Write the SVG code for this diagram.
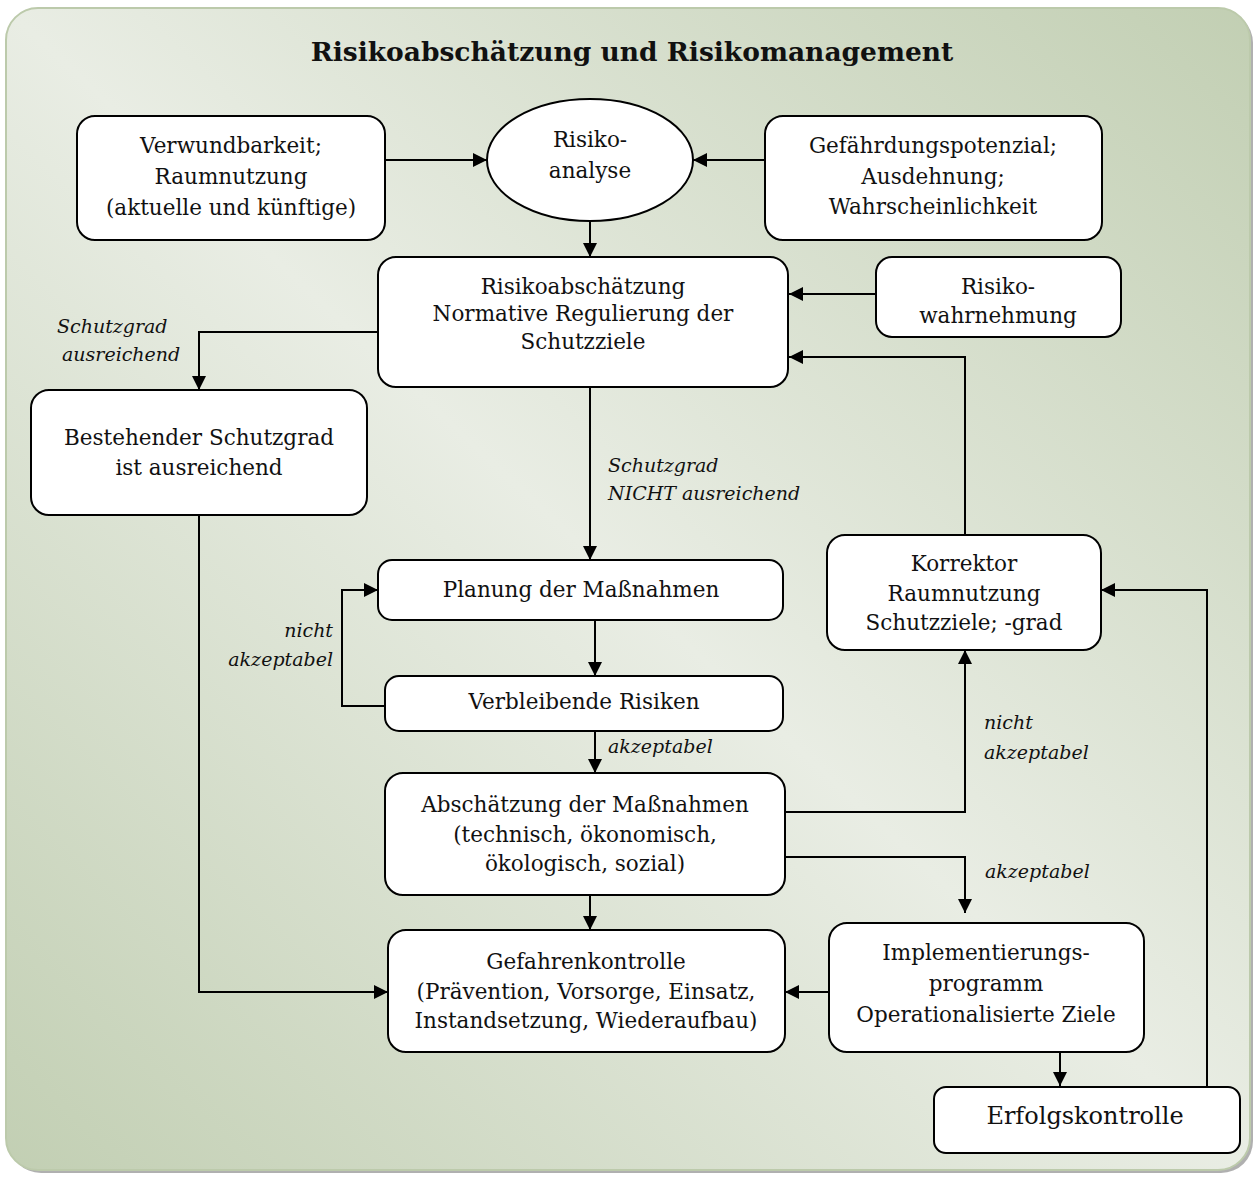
<svg xmlns="http://www.w3.org/2000/svg" width="1256" height="1178" viewBox="0 0 1256 1178">
  <defs>
    <linearGradient id="bg" x1="1" y1="0" x2="0" y2="1">
      <stop offset="0" stop-color="#c2cfb3"/>
      <stop offset="0.5" stop-color="#e9ede4"/>
      <stop offset="1" stop-color="#c2cfb3"/>
    </linearGradient>
    <marker id="arrow" markerUnits="userSpaceOnUse" markerWidth="16" markerHeight="16" refX="14" refY="7" orient="auto">
      <path d="M0,0 L14,7 L0,14 z" fill="#000"/>
    </marker>
  </defs>
  <style>
    .box { fill: #ffffff; stroke: #000; stroke-width: 2; }
    .txt { font-family: "Palatino Linotype", "Book Antiqua", Palatino, "DejaVu Serif", serif; font-size: 21.5px; fill: #111; text-anchor: middle; }
    .lbl { font-family: "Palatino Linotype", "Book Antiqua", Palatino, "DejaVu Serif", serif; font-size: 19px; font-style: italic; fill: #111; }
    .title { font-family: "Palatino Linotype", "Book Antiqua", Palatino, "DejaVu Serif", serif; font-size: 26.5px; font-weight: bold; fill: #111; text-anchor: middle; }
    .conn path { fill: none; stroke: #000; stroke-width: 2; }
    .conn .arr { marker-end: url(#arrow); }
  </style>

  <!-- panel background -->
  <rect x="9" y="11" width="1244" height="1162" rx="32" fill="#8e8e8e" opacity="0.7"/>
  <rect x="6" y="8" width="1244" height="1162" rx="32" fill="url(#bg)" stroke="#bccaab" stroke-width="2"/>

  <text class="title" x="632" y="61">Risikoabschätzung und Risikomanagement</text>

  <!-- connectors -->
  <g id="connectors" class="conn">
    <path class="arr" d="M385,160 H487"/>
    <path class="arr" d="M765,160 H693"/>
    <path class="arr" d="M590,221 V257"/>
    <path class="arr" d="M876,294 H789"/>
    <path class="arr" d="M378,332 H199 V390"/>
    <path class="arr" d="M590,387 V560"/>
    <path class="arr" d="M595,620 V676"/>
    <path class="arr" d="M388,706 H342 V590 H378"/>
    <path class="arr" d="M595,731 V773"/>
    <path class="arr" d="M590,895 V930"/>
    <path class="arr" d="M785,812 H965 V650"/>
    <path class="arr" d="M785,857 H965 V913"/>
    <path class="arr" d="M965,535 V357 H789"/>
    <path class="arr" d="M199,515 V992 H388"/>
    <path class="arr" d="M829,992 H785"/>
    <path class="arr" d="M1060,1052 V1086"/>
    <path class="arr" d="M1207,1087 V590 H1101"/>
  </g>

  <!-- edge labels -->
  <g id="labels">
    <text class="lbl" x="57" y="333">Schutzgrad</text>
    <text class="lbl" x="62" y="361">ausreichend</text>
    <text class="lbl" x="608" y="472">Schutzgrad</text>
    <text class="lbl" x="608" y="500">NICHT ausreichend</text>
    <text class="lbl" x="333" y="637" text-anchor="end">nicht</text>
    <text class="lbl" x="333" y="666" text-anchor="end">akzeptabel</text>
    <text class="lbl" x="608" y="753">akzeptabel</text>
    <text class="lbl" x="984" y="729">nicht</text>
    <text class="lbl" x="984" y="759">akzeptabel</text>
    <text class="lbl" x="985" y="878">akzeptabel</text>
  </g>

  <g id="verwundbarkeit">
    <rect class="box" x="77" y="116" width="308" height="124" rx="18"/>
    <text class="txt" x="231" y="153">Verwundbarkeit;</text>
    <text class="txt" x="231" y="184">Raumnutzung</text>
    <text class="txt" x="231" y="215">(aktuelle und künftige)</text>
  </g>

  <g id="risikoanalyse">
    <ellipse class="box" cx="590" cy="160" rx="103" ry="61"/>
    <text class="txt" x="590" y="147">Risiko-</text>
    <text class="txt" x="590" y="178">analyse</text>
  </g>

  <g id="gefaehrdung">
    <rect class="box" x="765" y="116" width="337" height="124" rx="18"/>
    <text class="txt" x="933" y="153">Gefährdungspotenzial;</text>
    <text class="txt" x="933" y="184">Ausdehnung;</text>
    <text class="txt" x="933" y="214">Wahrscheinlichkeit</text>
  </g>

  <g id="risikoabschaetzung">
    <rect class="box" x="378" y="257" width="410" height="130" rx="18"/>
    <text class="txt" x="583" y="294">Risikoabschätzung</text>
    <text class="txt" x="583" y="321">Normative Regulierung der</text>
    <text class="txt" x="583" y="349">Schutzziele</text>
  </g>

  <g id="risikowahrnehmung">
    <rect class="box" x="876" y="257" width="245" height="80" rx="16"/>
    <text class="txt" x="998" y="294">Risiko-</text>
    <text class="txt" x="998" y="323">wahrnehmung</text>
  </g>

  <g id="bestehender">
    <rect class="box" x="31" y="390" width="336" height="125" rx="18"/>
    <text class="txt" x="199" y="445">Bestehender Schutzgrad</text>
    <text class="txt" x="199" y="475">ist ausreichend</text>
  </g>

  <g id="planung">
    <rect class="box" x="378" y="560" width="405" height="60" rx="14"/>
    <text class="txt" x="581" y="597">Planung der Maßnahmen</text>
  </g>

  <g id="verbleibende">
    <rect class="box" x="385" y="676" width="398" height="55" rx="14"/>
    <text class="txt" x="584" y="709">Verbleibende Risiken</text>
  </g>

  <g id="abschaetzung-massnahmen">
    <rect class="box" x="385" y="773" width="400" height="122" rx="18"/>
    <text class="txt" x="585" y="812">Abschätzung der Maßnahmen</text>
    <text class="txt" x="585" y="842">(technisch, ökonomisch,</text>
    <text class="txt" x="585" y="871">ökologisch, sozial)</text>
  </g>

  <g id="korrektor">
    <rect class="box" x="827" y="535" width="274" height="115" rx="18"/>
    <text class="txt" x="964" y="571">Korrektor</text>
    <text class="txt" x="964" y="601">Raumnutzung</text>
    <text class="txt" x="964" y="630">Schutzziele; -grad</text>
  </g>

  <g id="gefahrenkontrolle">
    <rect class="box" x="388" y="930" width="397" height="122" rx="18"/>
    <text class="txt" x="586" y="969">Gefahrenkontrolle</text>
    <text class="txt" x="586" y="999">(Prävention, Vorsorge, Einsatz,</text>
    <text class="txt" x="586" y="1028">Instandsetzung, Wiederaufbau)</text>
  </g>

  <g id="implementierung">
    <rect class="box" x="829" y="923" width="315" height="129" rx="18"/>
    <text class="txt" x="986" y="960">Implementierungs-</text>
    <text class="txt" x="986" y="991">programm</text>
    <text class="txt" x="986" y="1022">Operationalisierte Ziele</text>
  </g>

  <g id="erfolgskontrolle">
    <rect class="box" x="934" y="1087" width="306" height="66" rx="12"/>
    <text class="txt" x="1085" y="1124" style="font-size:24px">Erfolgskontrolle</text>
  </g>
</svg>
